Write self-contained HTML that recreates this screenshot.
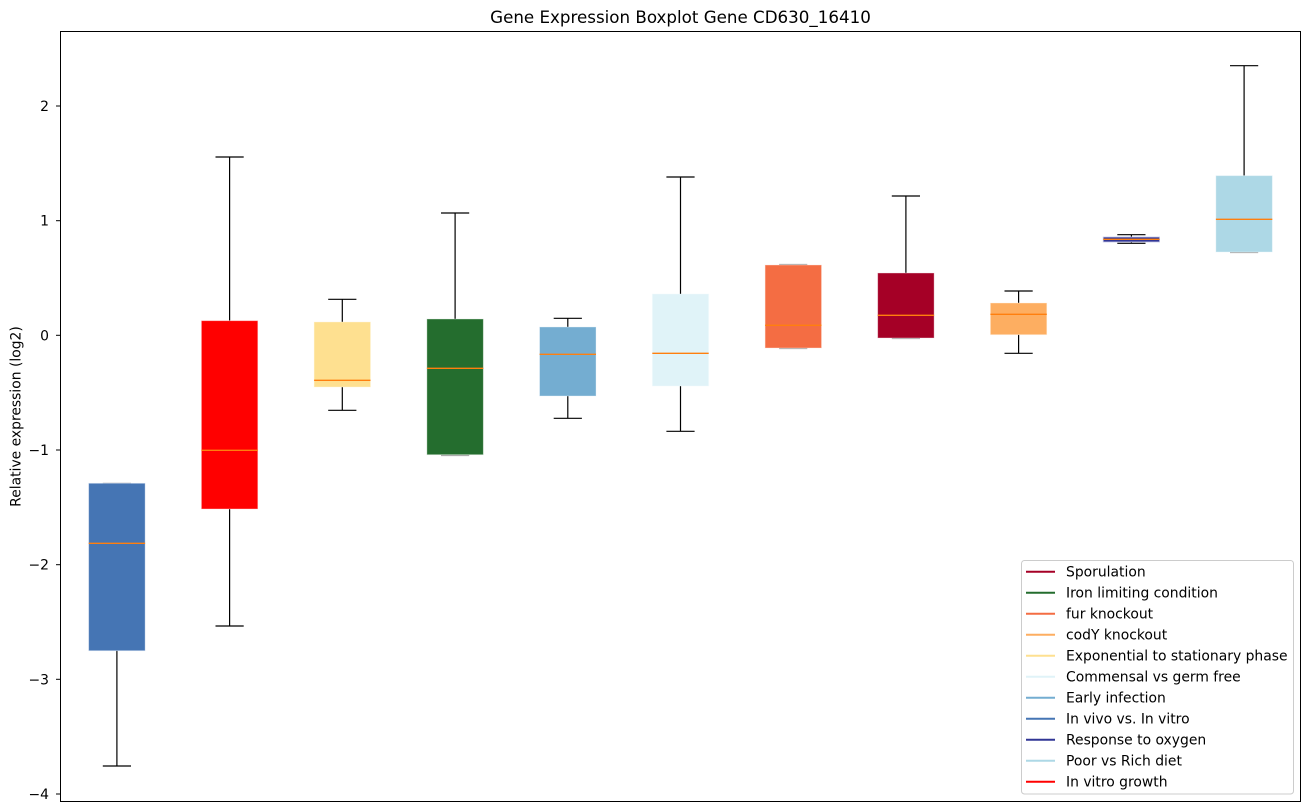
<!DOCTYPE html>
<html>
<head>
<meta charset="utf-8">
<style>
html,body{margin:0;padding:0;background:#fff;}
svg{display:block;}
text{font-family:"DejaVu Sans","Liberation Sans",sans-serif;fill:#000;}
</style>
</head>
<body>
<svg width="1309" height="812" viewBox="0 0 1309 812" xmlns="http://www.w3.org/2000/svg">
<rect x="0" y="0" width="1309" height="812" fill="#fff"/>
<text x="680.5" y="23" font-size="16.7" text-anchor="middle">Gene Expression Boxplot Gene CD630_16410</text>

<!-- whiskers and caps -->
<g stroke="#000" stroke-width="1.2" fill="none">
  <!-- 1 -->
  <line x1="116.9" y1="650.7" x2="116.9" y2="766"/>
  <line x1="102.8" y1="766" x2="131" y2="766"/>
  <line x1="102.8" y1="483.3" x2="131" y2="483.3" stroke="#aaa"/>
  <!-- 2 -->
  <line x1="229.6" y1="157" x2="229.6" y2="320.7"/>
  <line x1="229.6" y1="509" x2="229.6" y2="626"/>
  <line x1="215.5" y1="157" x2="243.7" y2="157"/>
  <line x1="215.5" y1="626" x2="243.7" y2="626"/>
  <!-- 3 -->
  <line x1="342.3" y1="299.3" x2="342.3" y2="322"/>
  <line x1="342.3" y1="387" x2="342.3" y2="410.3"/>
  <line x1="328.2" y1="299.3" x2="356.4" y2="299.3"/>
  <line x1="328.2" y1="410.3" x2="356.4" y2="410.3"/>
  <!-- 4 -->
  <line x1="455.1" y1="213" x2="455.1" y2="319"/>
  <line x1="441" y1="213" x2="469.2" y2="213"/>
  <line x1="441" y1="455.5" x2="469.2" y2="455.5" stroke="#aaa"/>
  <!-- 5 -->
  <line x1="567.8" y1="318.3" x2="567.8" y2="327"/>
  <line x1="567.8" y1="396" x2="567.8" y2="418.3"/>
  <line x1="553.7" y1="318.3" x2="581.9" y2="318.3"/>
  <line x1="553.7" y1="418.3" x2="581.9" y2="418.3"/>
  <!-- 6 -->
  <line x1="680.5" y1="177" x2="680.5" y2="294"/>
  <line x1="680.5" y1="386" x2="680.5" y2="431.3"/>
  <line x1="666.4" y1="177" x2="694.6" y2="177"/>
  <line x1="666.4" y1="431.3" x2="694.6" y2="431.3"/>
  <!-- 7 -->
  <line x1="779.1" y1="264.5" x2="807.3" y2="264.5" stroke="#aaa"/>
  <line x1="779.1" y1="348.5" x2="807.3" y2="348.5" stroke="#aaa"/>
  <!-- 8 -->
  <line x1="905.9" y1="196" x2="905.9" y2="273"/>
  <line x1="891.8" y1="196" x2="920" y2="196"/>
  <line x1="891.8" y1="338.5" x2="920" y2="338.5" stroke="#aaa"/>
  <!-- 9 -->
  <line x1="1018.6" y1="291" x2="1018.6" y2="303"/>
  <line x1="1018.6" y1="334.7" x2="1018.6" y2="353.3"/>
  <line x1="1004.5" y1="291" x2="1032.7" y2="291"/>
  <line x1="1004.5" y1="353.3" x2="1032.7" y2="353.3"/>
  <!-- 10 -->
  <line x1="1131.4" y1="234.7" x2="1131.4" y2="243.3"/>
  <line x1="1117.3" y1="234.7" x2="1145.5" y2="234.7"/>
  <line x1="1117.3" y1="243.3" x2="1145.5" y2="243.3"/>
  <!-- 11 -->
  <line x1="1244.1" y1="65.7" x2="1244.1" y2="175.7"/>
  <line x1="1230" y1="65.7" x2="1258.2" y2="65.7"/>
  <line x1="1230" y1="252.5" x2="1258.2" y2="252.5" stroke="#aaa"/>
</g>

<!-- boxes -->
<g stroke-width="0.8" stroke-opacity="0.5">
  <rect x="88.7" y="483.3" width="56.4" height="167.4" fill="#4575b4" stroke="#dbe5f5"/>
  <rect x="201.4" y="320.7" width="56.4" height="188.3" fill="#ff0000" stroke="#ffdede"/>
  <rect x="314.1" y="322" width="56.4" height="65" fill="#fee090" stroke="#fff6dd"/>
  <rect x="426.9" y="319" width="56.4" height="135.7" fill="#246d2e" stroke="#dde9de"/>
  <rect x="539.6" y="327" width="56.4" height="69" fill="#74add1" stroke="#e4f0f8"/>
  <rect x="652.3" y="294" width="56.4" height="92" fill="#e0f3f8" stroke="#f4fbfd"/>
  <rect x="765.1" y="265" width="56.4" height="83" fill="#f46d43" stroke="#fde3da"/>
  <rect x="877.7" y="273" width="56.4" height="65" fill="#a50026" stroke="#f3dde3"/>
  <rect x="990.4" y="303" width="56.4" height="31.7" fill="#fdae61" stroke="#fff0e0"/>
  <rect x="1103.2" y="237" width="56.4" height="5" fill="#313695" stroke="#c9cae8" stroke-opacity="1"/>
  <rect x="1215.9" y="175.7" width="56.4" height="76.3" fill="#add8e6" stroke="#eaf6fa"/>
</g>

<!-- medians -->
<g stroke="#ff7f0e" stroke-width="1.3">
  <line x1="88.7" y1="543.3" x2="145.1" y2="543.3"/>
  <line x1="201.4" y1="450.3" x2="257.8" y2="450.3"/>
  <line x1="314.1" y1="380.3" x2="370.5" y2="380.3"/>
  <line x1="426.9" y1="368.3" x2="483.3" y2="368.3"/>
  <line x1="539.6" y1="354.3" x2="596" y2="354.3"/>
  <line x1="652.3" y1="353.3" x2="708.7" y2="353.3"/>
  <line x1="765.1" y1="325.3" x2="821.5" y2="325.3"/>
  <line x1="877.7" y1="315.3" x2="934.1" y2="315.3"/>
  <line x1="990.4" y1="314.3" x2="1046.8" y2="314.3"/>
  <line x1="1103.2" y1="239.3" x2="1159.6" y2="239.3"/>
  <line x1="1215.9" y1="219.3" x2="1272.3" y2="219.3"/>
</g>

<!-- axes -->
<rect x="60.5" y="31.5" width="1240" height="770" fill="none" stroke="#000" stroke-width="1"/>

<!-- y ticks -->
<g stroke="#000" stroke-width="1">
  <line x1="56" y1="106" x2="60.5" y2="106"/>
  <line x1="56" y1="220.7" x2="60.5" y2="220.7"/>
  <line x1="56" y1="335.3" x2="60.5" y2="335.3"/>
  <line x1="56" y1="450" x2="60.5" y2="450"/>
  <line x1="56" y1="564.7" x2="60.5" y2="564.7"/>
  <line x1="56" y1="679.3" x2="60.5" y2="679.3"/>
  <line x1="56" y1="794" x2="60.5" y2="794"/>
</g>
<g font-size="13.9" text-anchor="end">
  <text x="49" y="111">2</text>
  <text x="49" y="225.7">1</text>
  <text x="49" y="340.3">0</text>
  <text x="49" y="455">−1</text>
  <text x="49" y="569.7">−2</text>
  <text x="49" y="684.3">−3</text>
  <text x="49" y="799">−4</text>
</g>
<text transform="translate(20.5,416.5) rotate(-90)" font-size="13.9" text-anchor="middle">Relative expression (log2)</text>

<!-- legend -->
<rect x="1021.5" y="560.5" width="272" height="233.5" rx="3" ry="3" fill="#fff" fill-opacity="0.8" stroke="#cccccc" stroke-width="1"/>
<g stroke-width="2">
  <line x1="1026" y1="571.7" x2="1055" y2="571.7" stroke="#a50026"/>
  <line x1="1026" y1="592.7" x2="1055" y2="592.7" stroke="#246d2e"/>
  <line x1="1026" y1="613.7" x2="1055" y2="613.7" stroke="#f46d43"/>
  <line x1="1026" y1="634.7" x2="1055" y2="634.7" stroke="#fdae61"/>
  <line x1="1026" y1="655.7" x2="1055" y2="655.7" stroke="#fee090"/>
  <line x1="1026" y1="676.7" x2="1055" y2="676.7" stroke="#e0f3f8"/>
  <line x1="1026" y1="697.7" x2="1055" y2="697.7" stroke="#74add1"/>
  <line x1="1026" y1="718.7" x2="1055" y2="718.7" stroke="#4575b4"/>
  <line x1="1026" y1="739.7" x2="1055" y2="739.7" stroke="#313695"/>
  <line x1="1026" y1="760.7" x2="1055" y2="760.7" stroke="#add8e6"/>
  <line x1="1026" y1="781.7" x2="1055" y2="781.7" stroke="#ff0000"/>
</g>
<g font-size="13.9">
  <text x="1066" y="576.7">Sporulation</text>
  <text x="1066" y="597.7">Iron limiting condition</text>
  <text x="1066" y="618.7">fur knockout</text>
  <text x="1066" y="639.7">codY knockout</text>
  <text x="1066" y="660.7">Exponential to stationary phase</text>
  <text x="1066" y="681.7">Commensal vs germ free</text>
  <text x="1066" y="702.7">Early infection</text>
  <text x="1066" y="723.7">In vivo vs. In vitro</text>
  <text x="1066" y="744.7">Response to oxygen</text>
  <text x="1066" y="765.7">Poor vs Rich diet</text>
  <text x="1066" y="786.7">In vitro growth</text>
</g>
</svg>
</body>
</html>
